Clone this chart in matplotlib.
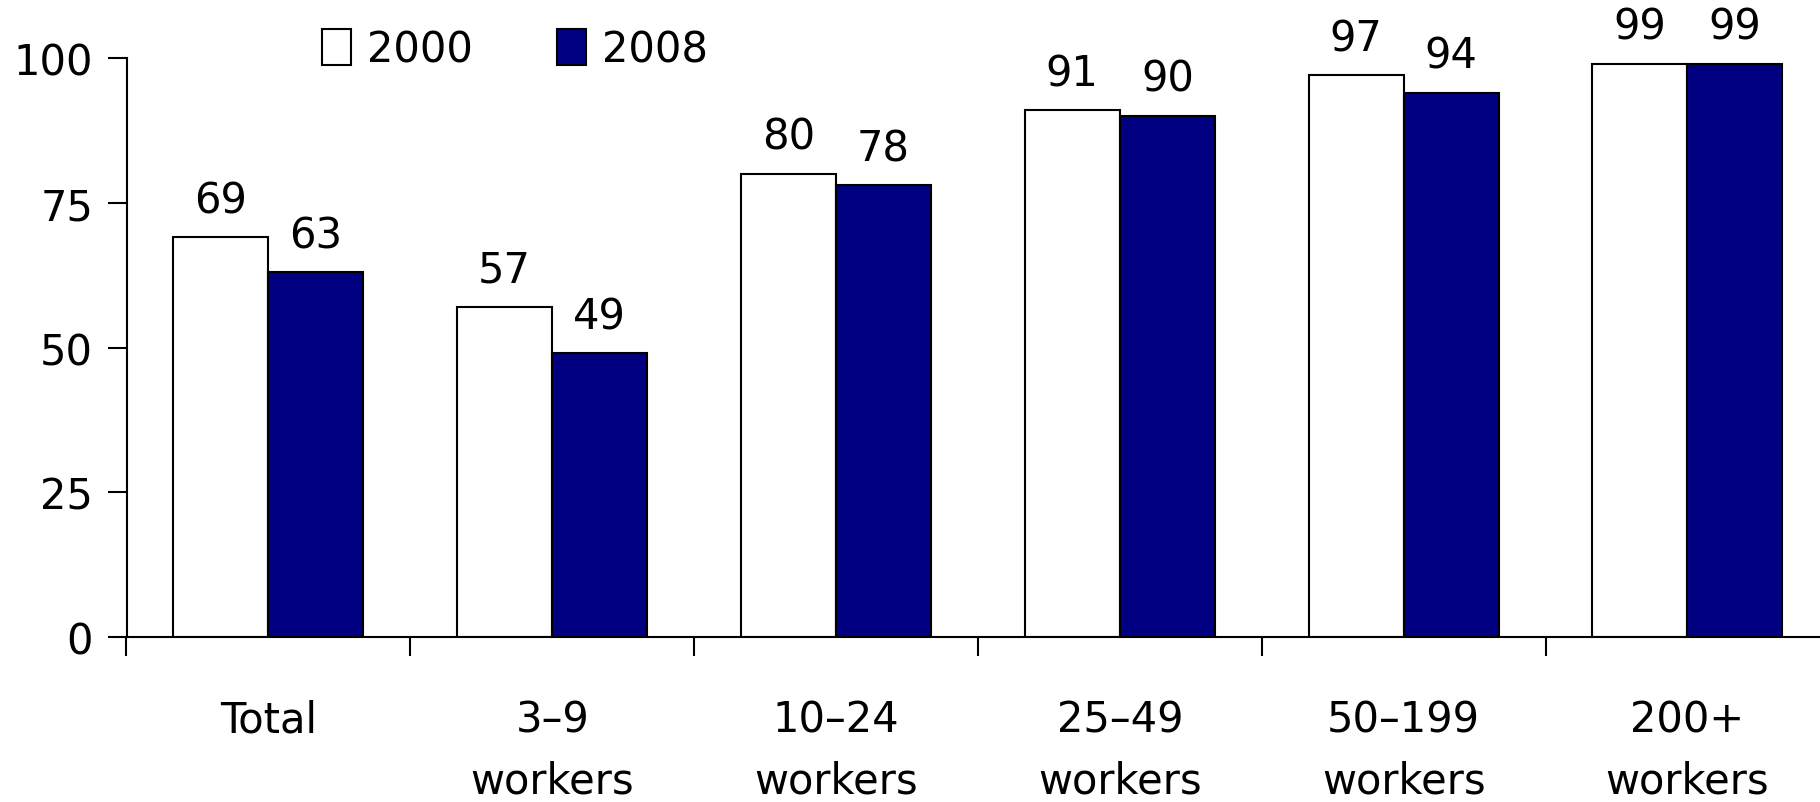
import matplotlib
matplotlib.use("Agg")
import matplotlib.pyplot as plt
import numpy as np

categories = ["Total", "3–9\nworkers", "10–24\nworkers", "25–49\nworkers", "50–199\nworkers", "200+\nworkers"]
series_names = ["2000", "2008"]
values_2000 = [69, 57, 80, 91, 97, 99]
values_2008 = [63, 49, 78, 90, 94, 99]
yticks = [0, 25, 50, 75, 100]

plt.rcParams['font.family'] = ['DejaVu Sans']
FS = 30

fig = plt.figure(figsize=(18.2, 8.03), dpi=100)
ax = fig.add_axes([126.5/1820, (803-638)/803, 6*283.8/1820, (638-59)/803])

x = np.arange(len(categories))
w = 0.335
b1 = ax.bar(x - w/2, values_2000, w, color="white", edgecolor="black", linewidth=1.5, label=series_names[0])
b2 = ax.bar(x + w/2, values_2008, w, color="#000080", edgecolor="black", linewidth=1.5, label=series_names[1])

for bars, vals in ((b1, values_2000), (b2, values_2008)):
    for r, v in zip(bars, vals):
        ax.annotate(str(v), (r.get_x() + r.get_width()/2, v), xytext=(0, 11.5),
                    textcoords="offset points", ha="center", va="bottom", fontsize=FS)

ax.set_xlim(-0.5, len(categories) - 0.5)
ax.set_ylim(0, 100)
ax.set_yticks(yticks)
ax.set_yticklabels([str(t) for t in yticks], fontsize=FS)
ax.set_xticks(x)
ax.set_xticklabels(categories, fontsize=FS, linespacing=1.6)
ax.set_xticks(np.arange(len(categories) + 1) - 0.5, minor=True)
ax.tick_params(axis="x", which="major", length=0, pad=44)
ax.tick_params(axis="x", which="minor", length=14, width=1.5, direction="out")
ax.tick_params(axis="y", length=14, width=1.5, direction="out", pad=10)

for s in ("top", "right"):
    ax.spines[s].set_visible(False)
ax.spines["left"].set_bounds(0, 100)
ax.spines["left"].set_linewidth(1.5)
ax.spines["bottom"].set_linewidth(1.5)

leg = fig.legend(handles=[b1, b2], labels=series_names, loc="upper left",
                 bbox_to_anchor=(284/1820, 1 + 8/803), ncol=2, frameon=False,
                 fontsize=FS, handlelength=0.7, handleheight=0.95,
                 handletextpad=0.4, columnspacing=2.0)

fig.savefig("out.png", dpi=100)
